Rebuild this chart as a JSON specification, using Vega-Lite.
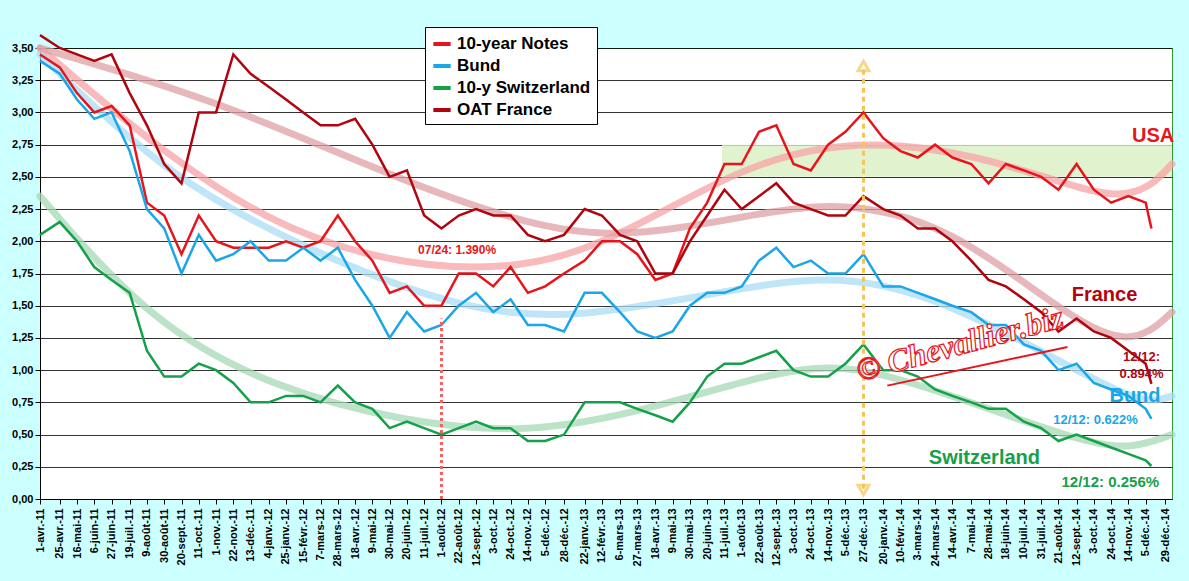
{
  "$schema": "https://vega.github.io/schema/vega-lite/v6.json",
  "width": 1132,
  "height": 451,
  "autosize": "none",
  "padding": {"left": 40, "top": 48, "right": 17, "bottom": 82},
  "background": "#ccffff",
  "config": {
    "view": {"fill": "white", "stroke": "#339933"},
    "font": "Liberation Sans"
  },
  "resolve": {"scale": {"color": "independent"}},
  "datasets": {
    "raw": [
      {"d":"2011-04-01","US":3.45,"Bund":3.4,"CH":2.05,"FR":3.6},
      {"d":"2011-04-25","US":3.35,"Bund":3.3,"CH":2.15,"FR":3.5},
      {"d":"2011-05-16","US":3.15,"Bund":3.1,"CH":2.0,"FR":3.45},
      {"d":"2011-06-06","US":3.0,"Bund":2.95,"CH":1.8,"FR":3.4},
      {"d":"2011-06-27","US":3.05,"Bund":3.0,"CH":1.7,"FR":3.45},
      {"d":"2011-07-19","US":2.9,"Bund":2.7,"CH":1.6,"FR":3.15},
      {"d":"2011-08-09","US":2.3,"Bund":2.25,"CH":1.15,"FR":2.9},
      {"d":"2011-08-30","US":2.2,"Bund":2.1,"CH":0.95,"FR":2.6},
      {"d":"2011-09-20","US":1.9,"Bund":1.75,"CH":0.95,"FR":2.45},
      {"d":"2011-10-11","US":2.2,"Bund":2.05,"CH":1.05,"FR":3.0},
      {"d":"2011-11-01","US":2.0,"Bund":1.85,"CH":1.0,"FR":3.0},
      {"d":"2011-11-22","US":1.95,"Bund":1.9,"CH":0.9,"FR":3.45},
      {"d":"2011-12-13","US":1.95,"Bund":2.0,"CH":0.75,"FR":3.3},
      {"d":"2012-01-04","US":1.95,"Bund":1.85,"CH":0.75,"FR":3.2},
      {"d":"2012-01-25","US":2.0,"Bund":1.85,"CH":0.8,"FR":3.1},
      {"d":"2012-02-15","US":1.95,"Bund":1.95,"CH":0.8,"FR":3.0},
      {"d":"2012-03-07","US":2.0,"Bund":1.85,"CH":0.75,"FR":2.9},
      {"d":"2012-03-28","US":2.2,"Bund":1.95,"CH":0.88,"FR":2.9},
      {"d":"2012-04-18","US":2.0,"Bund":1.7,"CH":0.75,"FR":2.95},
      {"d":"2012-05-09","US":1.85,"Bund":1.5,"CH":0.7,"FR":2.75},
      {"d":"2012-05-30","US":1.6,"Bund":1.25,"CH":0.55,"FR":2.5},
      {"d":"2012-06-20","US":1.65,"Bund":1.45,"CH":0.6,"FR":2.55},
      {"d":"2012-07-11","US":1.5,"Bund":1.3,"CH":0.55,"FR":2.2},
      {"d":"2012-08-01","US":1.5,"Bund":1.35,"CH":0.5,"FR":2.1},
      {"d":"2012-08-22","US":1.75,"Bund":1.5,"CH":0.55,"FR":2.2},
      {"d":"2012-09-12","US":1.75,"Bund":1.6,"CH":0.6,"FR":2.25},
      {"d":"2012-10-03","US":1.65,"Bund":1.45,"CH":0.55,"FR":2.2},
      {"d":"2012-10-24","US":1.8,"Bund":1.55,"CH":0.55,"FR":2.2},
      {"d":"2012-11-14","US":1.6,"Bund":1.35,"CH":0.45,"FR":2.05},
      {"d":"2012-12-05","US":1.65,"Bund":1.35,"CH":0.45,"FR":2.0},
      {"d":"2012-12-28","US":1.75,"Bund":1.3,"CH":0.5,"FR":2.05},
      {"d":"2013-01-22","US":1.85,"Bund":1.6,"CH":0.75,"FR":2.25},
      {"d":"2013-02-12","US":2.0,"Bund":1.6,"CH":0.75,"FR":2.2},
      {"d":"2013-03-06","US":2.0,"Bund":1.45,"CH":0.75,"FR":2.05},
      {"d":"2013-03-27","US":1.9,"Bund":1.3,"CH":0.7,"FR":2.0},
      {"d":"2013-04-18","US":1.7,"Bund":1.25,"CH":0.65,"FR":1.75},
      {"d":"2013-05-09","US":1.75,"Bund":1.3,"CH":0.6,"FR":1.75},
      {"d":"2013-05-30","US":2.1,"Bund":1.5,"CH":0.75,"FR":2.0},
      {"d":"2013-06-20","US":2.3,"Bund":1.6,"CH":0.95,"FR":2.2},
      {"d":"2013-07-11","US":2.6,"Bund":1.6,"CH":1.05,"FR":2.4},
      {"d":"2013-08-01","US":2.6,"Bund":1.65,"CH":1.05,"FR":2.25},
      {"d":"2013-08-22","US":2.85,"Bund":1.85,"CH":1.1,"FR":2.35},
      {"d":"2013-09-12","US":2.9,"Bund":1.95,"CH":1.15,"FR":2.45},
      {"d":"2013-10-03","US":2.6,"Bund":1.8,"CH":1.0,"FR":2.3},
      {"d":"2013-10-24","US":2.55,"Bund":1.85,"CH":0.95,"FR":2.25},
      {"d":"2013-11-14","US":2.75,"Bund":1.75,"CH":0.95,"FR":2.2},
      {"d":"2013-12-05","US":2.85,"Bund":1.75,"CH":1.05,"FR":2.2},
      {"d":"2013-12-27","US":3.0,"Bund":1.9,"CH":1.2,"FR":2.35},
      {"d":"2014-01-20","US":2.8,"Bund":1.65,"CH":1.0,"FR":2.25},
      {"d":"2014-02-10","US":2.7,"Bund":1.65,"CH":1.0,"FR":2.2},
      {"d":"2014-03-03","US":2.65,"Bund":1.6,"CH":0.95,"FR":2.1},
      {"d":"2014-03-24","US":2.75,"Bund":1.55,"CH":0.85,"FR":2.1},
      {"d":"2014-04-14","US":2.65,"Bund":1.5,"CH":0.8,"FR":2.0},
      {"d":"2014-05-07","US":2.6,"Bund":1.45,"CH":0.75,"FR":1.85},
      {"d":"2014-05-28","US":2.45,"Bund":1.35,"CH":0.7,"FR":1.7},
      {"d":"2014-06-18","US":2.6,"Bund":1.35,"CH":0.7,"FR":1.65},
      {"d":"2014-07-10","US":2.55,"Bund":1.2,"CH":0.6,"FR":1.55},
      {"d":"2014-07-31","US":2.5,"Bund":1.15,"CH":0.55,"FR":1.45},
      {"d":"2014-08-21","US":2.4,"Bund":1.0,"CH":0.45,"FR":1.3},
      {"d":"2014-09-12","US":2.6,"Bund":1.05,"CH":0.5,"FR":1.4},
      {"d":"2014-10-03","US":2.4,"Bund":0.9,"CH":0.45,"FR":1.3},
      {"d":"2014-10-24","US":2.3,"Bund":0.85,"CH":0.4,"FR":1.25},
      {"d":"2014-11-14","US":2.35,"Bund":0.8,"CH":0.35,"FR":1.15},
      {"d":"2014-12-05","US":2.3,"Bund":0.7,"CH":0.3,"FR":1.05},
      {"d":"2014-12-12","US":2.1,"Bund":0.622,"CH":0.256,"FR":0.894}
    ],
    "trend": [
      {"d":"2011-04-01","s":"10-year Notes","v":3.5},
      {"d":"2012-01-01","s":"10-year Notes","v":2.0},
      {"d":"2012-10-01","s":"10-year Notes","v":1.7},
      {"d":"2013-03-01","s":"10-year Notes","v":2.0},
      {"d":"2013-08-01","s":"10-year Notes","v":2.6},
      {"d":"2014-01-01","s":"10-year Notes","v":2.82},
      {"d":"2014-07-01","s":"10-year Notes","v":2.6},
      {"d":"2014-11-15","s":"10-year Notes","v":2.25},
      {"d":"2015-01-06","s":"10-year Notes","v":2.6},
      {"d":"2011-04-01","s":"Bund","v":3.45},
      {"d":"2011-09-01","s":"Bund","v":2.5},
      {"d":"2012-03-01","s":"Bund","v":1.9},
      {"d":"2012-09-01","s":"Bund","v":1.45},
      {"d":"2013-01-15","s":"Bund","v":1.4},
      {"d":"2013-07-01","s":"Bund","v":1.6},
      {"d":"2013-11-15","s":"Bund","v":1.75},
      {"d":"2014-03-15","s":"Bund","v":1.6},
      {"d":"2014-08-15","s":"Bund","v":1.1},
      {"d":"2014-12-01","s":"Bund","v":0.72},
      {"d":"2015-01-06","s":"Bund","v":0.8},
      {"d":"2011-04-01","s":"10-y Switzerland","v":2.35},
      {"d":"2011-08-15","s":"10-y Switzerland","v":1.35},
      {"d":"2012-01-15","s":"10-y Switzerland","v":0.85},
      {"d":"2012-06-15","s":"10-y Switzerland","v":0.6},
      {"d":"2012-11-15","s":"10-y Switzerland","v":0.5},
      {"d":"2013-04-15","s":"10-y Switzerland","v":0.7},
      {"d":"2013-09-15","s":"10-y Switzerland","v":1.0},
      {"d":"2013-12-15","s":"10-y Switzerland","v":1.05},
      {"d":"2014-04-15","s":"10-y Switzerland","v":0.8},
      {"d":"2014-09-15","s":"10-y Switzerland","v":0.45},
      {"d":"2014-11-15","s":"10-y Switzerland","v":0.38},
      {"d":"2015-01-06","s":"10-y Switzerland","v":0.5},
      {"d":"2011-04-01","s":"OAT France","v":3.5},
      {"d":"2011-11-01","s":"OAT France","v":3.1},
      {"d":"2012-06-01","s":"OAT France","v":2.5},
      {"d":"2012-12-15","s":"OAT France","v":2.05},
      {"d":"2013-04-15","s":"OAT France","v":2.05},
      {"d":"2013-09-15","s":"OAT France","v":2.25},
      {"d":"2013-12-15","s":"OAT France","v":2.3},
      {"d":"2014-04-15","s":"OAT France","v":2.1},
      {"d":"2014-08-15","s":"OAT France","v":1.5},
      {"d":"2014-11-15","s":"OAT France","v":1.15},
      {"d":"2015-01-06","s":"OAT France","v":1.45}
    ]
  },
  "encoding": {
    "x": {
      "field": "d", "type": "temporal", "title": null,
      "scale": {"domain": ["2011-04-01", "2015-01-06"]},
      "axis": {
        "grid": false, "labelAngle": -90, "labelFontWeight": "bold", "labelFontSize": 11,
        "labelColor": "black", "domainColor": "black", "tickColor": "black", "labelPadding": 4,
        "labelFlush": false, "labelOverlap": false,
        "values": [
          {"year":2011,"month":4,"date":1},{"year":2011,"month":4,"date":25},{"year":2011,"month":5,"date":16},{"year":2011,"month":6,"date":6},{"year":2011,"month":6,"date":27},{"year":2011,"month":7,"date":19},{"year":2011,"month":8,"date":9},{"year":2011,"month":8,"date":30},{"year":2011,"month":9,"date":20},{"year":2011,"month":10,"date":11},{"year":2011,"month":11,"date":1},{"year":2011,"month":11,"date":22},{"year":2011,"month":12,"date":13},
          {"year":2012,"month":1,"date":4},{"year":2012,"month":1,"date":25},{"year":2012,"month":2,"date":15},{"year":2012,"month":3,"date":7},{"year":2012,"month":3,"date":28},{"year":2012,"month":4,"date":18},{"year":2012,"month":5,"date":9},{"year":2012,"month":5,"date":30},{"year":2012,"month":6,"date":20},{"year":2012,"month":7,"date":11},{"year":2012,"month":8,"date":1},{"year":2012,"month":8,"date":22},{"year":2012,"month":9,"date":12},{"year":2012,"month":10,"date":3},{"year":2012,"month":10,"date":24},{"year":2012,"month":11,"date":14},{"year":2012,"month":12,"date":5},{"year":2012,"month":12,"date":28},
          {"year":2013,"month":1,"date":22},{"year":2013,"month":2,"date":12},{"year":2013,"month":3,"date":6},{"year":2013,"month":3,"date":27},{"year":2013,"month":4,"date":18},{"year":2013,"month":5,"date":9},{"year":2013,"month":5,"date":30},{"year":2013,"month":6,"date":20},{"year":2013,"month":7,"date":11},{"year":2013,"month":8,"date":1},{"year":2013,"month":8,"date":22},{"year":2013,"month":9,"date":12},{"year":2013,"month":10,"date":3},{"year":2013,"month":10,"date":24},{"year":2013,"month":11,"date":14},{"year":2013,"month":12,"date":5},{"year":2013,"month":12,"date":27},
          {"year":2014,"month":1,"date":20},{"year":2014,"month":2,"date":10},{"year":2014,"month":3,"date":3},{"year":2014,"month":3,"date":24},{"year":2014,"month":4,"date":14},{"year":2014,"month":5,"date":7},{"year":2014,"month":5,"date":28},{"year":2014,"month":6,"date":18},{"year":2014,"month":7,"date":10},{"year":2014,"month":7,"date":31},{"year":2014,"month":8,"date":21},{"year":2014,"month":9,"date":12},{"year":2014,"month":10,"date":3},{"year":2014,"month":10,"date":24},{"year":2014,"month":11,"date":14},{"year":2014,"month":12,"date":5},{"year":2014,"month":12,"date":29}
        ],
        "labelExpr": "date(datum.value) + '-' + ['janv.','févr.','mars','avr.','mai','juin','juil.','août','sept.','oct.','nov.','déc.'][month(datum.value)] + '-' + timeFormat(datum.value, '%y')"
      }
    },
    "y": {
      "field": "v", "type": "quantitative", "title": null,
      "scale": {"domain": [0, 3.5], "nice": false},
      "axis": {
        "values": [0,0.25,0.5,0.75,1,1.25,1.5,1.75,2,2.25,2.5,2.75,3,3.25,3.5],
        "labelExpr": "replace(format(datum.value, '.2f'), '.', ',')",
        "labelFontWeight": "bold", "labelFontSize": 11, "labelColor": "black",
        "gridColor": "black", "gridWidth": 0.8, "domainColor": "black", "tickColor": "black"
      }
    }
  },
  "layer": [
    {
      "data": {"values": [{"d":"2013-07-08","d2":"2015-01-06","v":2.5,"v2":2.75}]},
      "mark": {"type": "rect", "color": "#d9f0c2", "opacity": 0.8},
      "encoding": {"x2": {"field": "d2"}, "y2": {"field": "v2"}}
    },
    {
      "data": {"name": "trend"},
      "mark": {"type": "line", "strokeWidth": 7, "interpolate": "basis", "strokeCap": "round", "strokeOpacity": 0.75},
      "encoding": {"color": {
        "field": "s", "type": "nominal", "legend": null,
        "scale": {
          "domain": ["10-year Notes", "Bund", "10-y Switzerland", "OAT France"],
          "range": ["#f6a3a5", "#a8dcf5", "#a6d8b4", "#dfa0a4"]
        }
      }}
    },
    {
      "data": {"name": "raw"},
      "transform": [
        {"fold": ["US", "Bund", "CH", "FR"], "as": ["k", "v"]},
        {"lookup": "k", "from": {"data": {"values": [
          {"k":"US","s":"10-year Notes"},{"k":"Bund","s":"Bund"},{"k":"CH","s":"10-y Switzerland"},{"k":"FR","s":"OAT France"}]}, "key": "k", "fields": ["s"]}}
      ],
      "mark": {"type": "line", "strokeWidth": 2.5},
      "encoding": {
        "color": {
          "field": "s", "type": "nominal",
          "scale": {
            "domain": ["10-year Notes", "Bund", "10-y Switzerland", "OAT France"],
            "range": ["#e8141b", "#1aa6e8", "#15a04a", "#b0050f"]
          },
          "legend": {
            "title": null, "orient": "none", "legendX": 385, "legendY": -21,
            "fillColor": "white", "strokeColor": "black", "padding": 6,
            "symbolType": "stroke", "symbolStrokeWidth": 4, "symbolSize": 300,
            "labelFontSize": 17, "labelFontWeight": "bold", "labelColor": "black",
            "rowPadding": 3, "labelLimit": 300
          }
        }
      }
    },
    {
      "data": {"values": [{"d":"2012-08-01","v":0,"v2":1.4}]},
      "mark": {"type": "rule", "color": "#f46060", "strokeWidth": 3, "strokeDash": [3, 3]},
      "encoding": {"y2": {"field": "v2"}}
    },
    {
      "data": {"values": [{"d":"2013-12-27","v":0.08,"v2":3.35}]},
      "mark": {"type": "rule", "color": "#f5c55a", "strokeWidth": 3, "strokeDash": [5, 4]},
      "encoding": {"y2": {"field": "v2"}}
    },
    {
      "data": {"values": [{"d":"2013-12-27","v":3.36,"sh":"triangle-up"},{"d":"2013-12-27","v":0.07,"sh":"triangle-down"}]},
      "mark": {"type": "point", "color": "#f5c55a", "filled": false, "strokeWidth": 3, "size": 120},
      "encoding": {"shape": {"field": "sh", "type": "nominal", "scale": null, "legend": null}}
    },
    {
      "data": {"values": [{"d":"2014-12-14","v":2.82,"t":"USA"}]},
      "mark": {"type": "text", "color": "#e8141b", "fontSize": 20, "fontWeight": "bold"},
      "encoding": {"text": {"field": "t"}}
    },
    {
      "data": {"values": [{"d":"2014-10-16","v":1.58,"t":"France"}]},
      "mark": {"type": "text", "color": "#b0050f", "fontSize": 20, "fontWeight": "bold"},
      "encoding": {"text": {"field": "t"}}
    },
    {
      "data": {"values": [{"d":"2014-11-30","v":1.1,"t":"12/12:"},{"d":"2014-11-30","v":0.97,"t":"0.894%"}]},
      "mark": {"type": "text", "color": "#b0050f", "fontSize": 13, "fontWeight": "bold"},
      "encoding": {"text": {"field": "t"}}
    },
    {
      "data": {"values": [{"d":"2014-11-22","v":0.8,"t":"Bund"}]},
      "mark": {"type": "text", "color": "#1aa6e8", "fontSize": 20, "fontWeight": "bold"},
      "encoding": {"text": {"field": "t"}}
    },
    {
      "data": {"values": [{"d":"2014-10-05","v":0.61,"t":"12/12: 0.622%"}]},
      "mark": {"type": "text", "color": "#1aa6e8", "fontSize": 13, "fontWeight": "bold"},
      "encoding": {"text": {"field": "t"}}
    },
    {
      "data": {"values": [{"d":"2014-05-23","v":0.32,"t":"Switzerland"}]},
      "mark": {"type": "text", "color": "#15a04a", "fontSize": 20, "fontWeight": "bold"},
      "encoding": {"text": {"field": "t"}}
    },
    {
      "data": {"values": [{"d":"2014-10-23","v":0.13,"t":"12/12: 0.256%"}]},
      "mark": {"type": "text", "color": "#15a04a", "fontSize": 15, "fontWeight": "bold"},
      "encoding": {"text": {"field": "t"}}
    },
    {
      "data": {"values": [{"d":"2012-08-20","v":1.93,"t":"07/24: 1.390%"}]},
      "mark": {"type": "text", "color": "#e8141b", "fontSize": 12, "fontWeight": "bold"},
      "encoding": {"text": {"field": "t"}}
    },
    {
      "data": {"values": [{"d":"2014-04-23","v":1.2,"t":"© Chevallier.biz"}]},
      "mark": {"type": "text", "color": "white", "fontSize": 32, "fontStyle": "italic", "fontWeight": "bold", "font": "Liberation Serif", "angle": -15, "stroke": "#e8141b", "strokeWidth": 1.2},
      "encoding": {"text": {"field": "t"}}
    },
    {
      "data": {"values": [{"d":"2014-01-25","d2":"2014-09-01","v":0.88,"v2":1.18}]},
      "mark": {"type": "rule", "color": "#e8141b", "strokeWidth": 2},
      "encoding": {"x2": {"field": "d2"}, "y2": {"field": "v2"}}
    }
  ]
}
